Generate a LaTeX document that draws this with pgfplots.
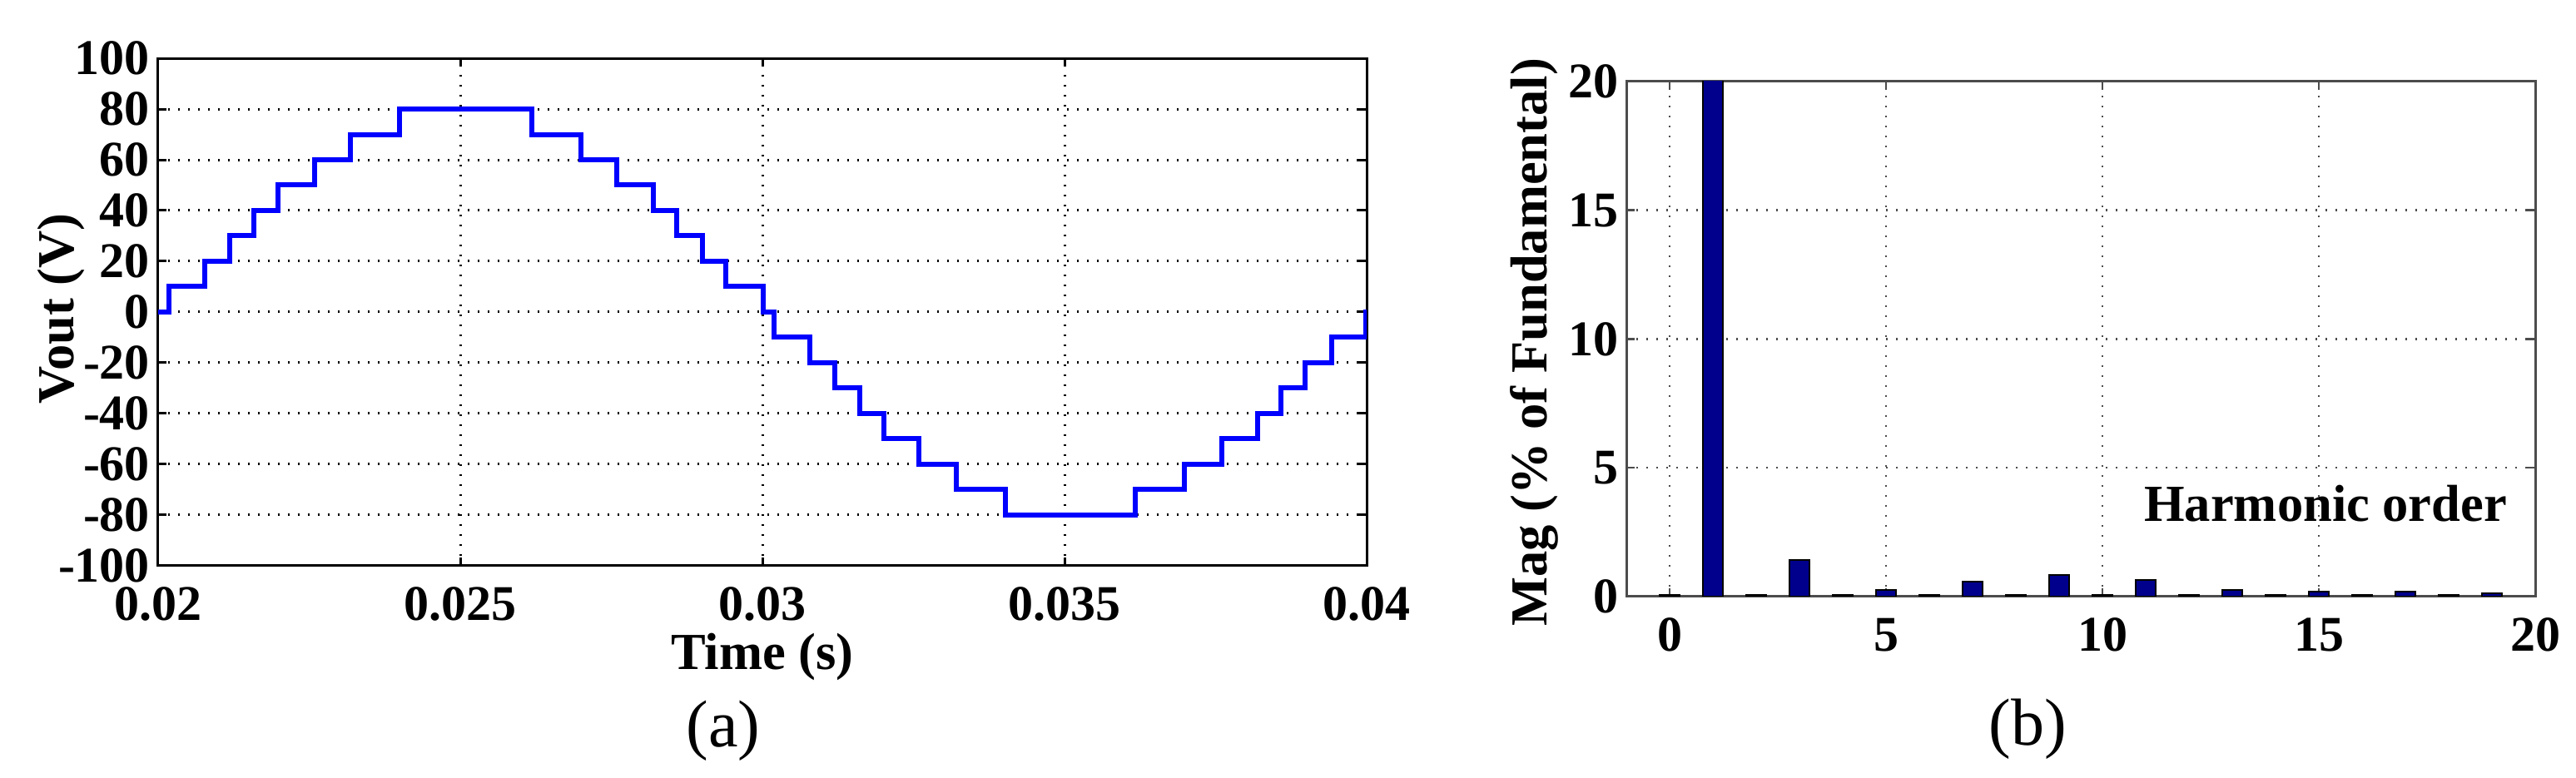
\documentclass[border=0pt]{standalone}
\usepackage{fontspec}
\setmainfont{Liberation Serif}
\usepackage{pgfplots}
\pgfplotsset{compat=1.18}
\definecolor{matblue}{rgb}{0,0,1}
\definecolor{barnavy}{rgb}{0,0,0.55}

% step waveform, one period
\pgfplotstableread{
t v
0.02 0
0.020176 10
0.020774 20
0.021181 30
0.021582 40
0.021990 50
0.022588 60
0.023186 70
0.023994 80
0.026188 70
0.026997 60
0.027595 50
0.028193 40
0.028586 30
0.029005 20
0.029400 10
0.030016 0
0.030190 -10
0.030782 -20
0.031201 -30
0.031611 -40
0.032006 -50
0.032583 -60
0.033215 -70
0.034021 -80
0.036177 -70
0.036983 -60
0.037599 -50
0.038191 -40
0.038586 -30
0.038981 -20
0.039415 -10
0.039984 0
0.04 0
}\wave

% harmonic spectrum, % of fundamental
\pgfplotstableread{
h mag
0 0.05
1 100
2 0.05
3 1.42
4 0.05
5 0.26
6 0.05
7 0.58
8 0.05
9 0.83
10 0.05
11 0.65
12 0.05
13 0.26
14 0.05
15 0.19
16 0.05
17 0.19
18 0.05
19 0.13
}\spectrum

\pgfplotsset{
  matstyle/.style={
    scale only axis,
    tick align=inside,
    major tick length=2pt,
    grid=major,
    ticklabel style={font=\fontsize{12}{12}\selectfont\bfseries},
    label style={font=\fontsize{12.5}{12.5}\selectfont\bfseries},
    yticklabel style={inner sep=0pt, xshift=-1.8pt},
    xticklabel style={inner sep=0pt, yshift=-5pt},
  },
}

\begin{document}
\begin{tikzpicture}
\path[use as bounding box] (0,0) rectangle (619pt,187pt);

\begin{axis}[
  matstyle,
  at={(38pt,51pt)}, anchor=south west,
  width=290.4pt, height=122pt,
  xmin=0.02, xmax=0.04, ymin=-100, ymax=100,
  scaled x ticks=false,
  xtick={0.02,0.025,0.03,0.035,0.04},
  xticklabels={0.02,0.025,0.03,0.035,0.04},
  ytick={-100,-80,-60,-40,-20,0,20,40,60,80,100},
  yticklabels={-100,-80,-60,-40,-20,0,20,40,60,80,100},
  axis line style={line width=0.6pt},
  tick style={black, line width=0.6pt},
  grid style={dotted, black, line width=0.6pt},
  xlabel={Time (s)}, ylabel={Vout (V)},
  xlabel style={at={(axis description cs:0.5,-0.18)}, anchor=center, inner sep=0pt},
  ylabel style={at={(axis description cs:-0.08,0.507)}, anchor=center},
]
\addplot[const plot, matblue, line width=1.2pt] table[x=t, y=v] {\wave};
\end{axis}

\begin{axis}[
  matstyle,
  at={(390.8pt,43.6pt)}, anchor=south west,
  width=218.4pt, height=123.8pt,
  xmin=-1, xmax=20, ymin=0, ymax=20,
  xtick={0,5,10,15,20}, xticklabels={0,5,10,15,20},
  ytick={0,5,10,15,20}, yticklabels={0,5,10,15,20},
  axis line style={black!70, line width=0.6pt},
  tick style={black!70, line width=0.5pt},
  grid style={dotted, black!70, line width=0.5pt},
  xlabel={Harmonic order}, ylabel={Mag (\% of Fundamental)},
  xlabel style={at={(axis description cs:0.985,0.181)}, anchor=east},
  ylabel style={at={(axis description cs:-0.1016,0.494)}, anchor=center},
]
\addplot[ybar, bar width=0.45, fill=barnavy, draw=black, line width=0.4pt]
  table[x=h, y=mag] {\spectrum};
\end{axis}

\node[font=\fontsize{16}{16}\selectfont] at (173.8pt,11.4pt) {(a)};
\node[font=\fontsize{16}{16}\selectfont] at (487.2pt,11.8pt) {(b)};
\end{tikzpicture}
\end{document}
